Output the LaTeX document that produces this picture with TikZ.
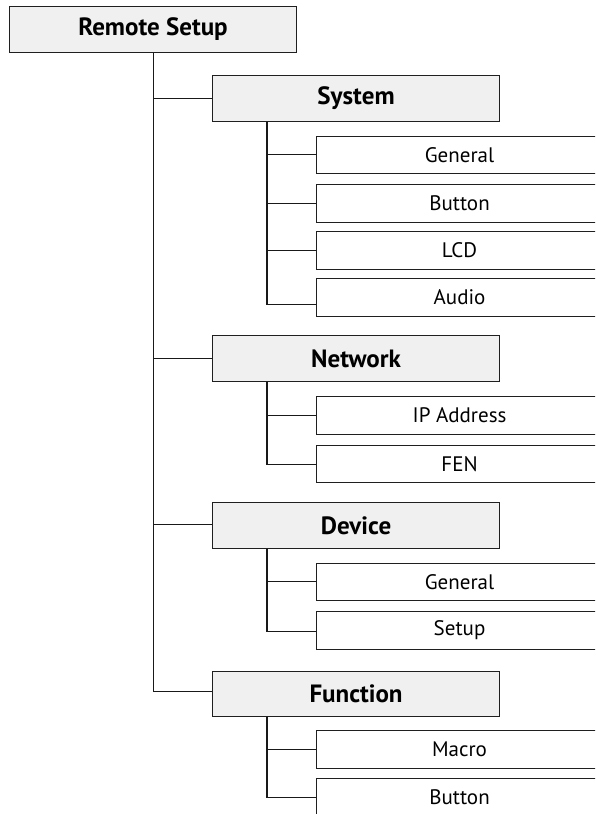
\documentclass[tikz,border=0pt]{standalone}
\usepackage{fontspec}
\setmainfont{PT Sans}
\begin{document}
\begin{tikzpicture}[x=1pt,y=-1pt,
  box/.style={draw=black!88, line width=1.1pt, anchor=north west, inner sep=0pt},
  hdr/.style={box, fill=black!6, minimum width=287pt, minimum height=46pt, font=\fontsize{25}{28}\selectfont\bfseries},
  leaf/.style={box, fill=white, minimum width=286pt, minimum height=37.5pt, font=\fontsize{21}{24}\selectfont},
  link/.style={line width=1.1pt, black!90}]
\useasboundingbox (0,0) rectangle (595,814);
\clip (0,0) rectangle (595,814);
% level 0
\node[hdr] (root) at (9,6) {Remote Setup};
% level 1
\node[hdr] (sys) at (212,75) {System};
\node[hdr] (net) at (212,335) {Network};
\node[hdr] (dev) at (212,502) {Device};
\node[hdr, minimum height=45pt] (fun) at (212,671) {Function};
% level 2
\node[leaf] (sgen) at (316,135.5) {General};
\node[leaf] (sbtn) at (316,184) {Button};
\node[leaf] (slcd) at (316,231) {LCD};
\node[leaf] (saud) at (316,278) {Audio};
\node[leaf] (nip)  at (316,396) {IP Address};
\node[leaf] (nfen) at (316,444.5) {FEN};
\node[leaf] (dgen) at (316,562.5) {General};
\node[leaf] (dset) at (316,611) {Setup};
\node[leaf] (fmac) at (316,730) {Macro};
\node[leaf] (fbtn) at (316,777.5) {Button};
% connector end points on the box sides
\coordinate (funw) at ([yshift=3pt]fun.west);
\coordinate (devw) at ([yshift=1.5pt]dev.west);
\coordinate (saudw) at ([yshift=-7pt]saud.west);
\coordinate (nfenw) at ([yshift=-1pt]nfen.west);
\coordinate (dsetw) at ([yshift=-1.5pt]dset.west);
\coordinate (fbtnw) at ([yshift=-0.5pt]fbtn.west);
% trunk x positions
\coordinate (t0) at ([xshift=0.5pt]root.south);
\coordinate (t1) at (267,0);
% main trunk
\draw[link] (t0) |- (funw);
\draw[link] (t0 |- sys.west) -- (sys.west);
\draw[link] (t0 |- net.west) -- (net.west);
\draw[link] (t0 |- devw) -- (devw);
% system
\draw[link] (t1 |- sys.south) |- (saudw);
\draw[link] (t1 |- sgen.west) -- (sgen.west);
\draw[link] (t1 |- sbtn.west) -- (sbtn.west);
\draw[link] (t1 |- slcd.west) -- (slcd.west);
% network
\draw[link] (t1 |- net.south) |- (nfenw);
\draw[link] (t1 |- nip.west) -- (nip.west);
% device
\draw[link] (t1 |- dev.south) |- (dsetw);
\draw[link] (t1 |- dgen.west) -- (dgen.west);
% function
\draw[link] (t1 |- fun.south) |- (fbtnw);
\draw[link] (t1 |- fmac.west) -- (fmac.west);
\end{tikzpicture}
\end{document}
